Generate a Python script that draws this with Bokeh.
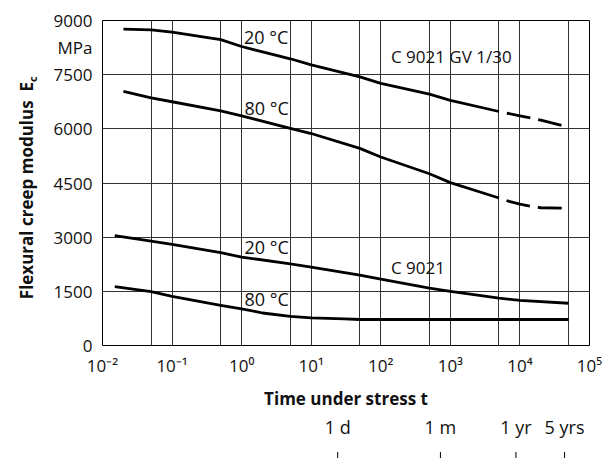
from math import pi, sqrt

from bokeh.core.properties import value
from bokeh.embed import file_html
from bokeh.layouts import column, row
from bokeh.models import FixedTicker, Range1d
from bokeh.plotting import figure
from bokeh.resources import INLINE

# Time under stress in hours, flexural creep modulus in MPa
gv20_t = [0.02, 0.05, 0.1, 0.5, 1, 2, 5, 10, 50, 100, 500, 1000, 5000]
gv20_e = [8760, 8740, 8680, 8470, 8280, 8130, 7940, 7770, 7440, 7260, 6960, 6790, 6480]
gv20_ext_t = [5000, 10000, 20000, 45000]
gv20_ext_e = [6480, 6360, 6240, 6070]

gv80_t = [0.02, 0.05, 0.1, 0.5, 1, 5, 10, 50, 100, 500, 1000, 5000]
gv80_e = [7040, 6860, 6750, 6500, 6360, 6010, 5870, 5460, 5220, 4755, 4510, 4085]
gv80_ext_t = [5000, 7000, 10000, 15000, 20000, 45000]
gv80_ext_e = [4085, 3990, 3915, 3845, 3815, 3800]

c20_t = [0.015, 0.05, 0.1, 0.5, 1, 5, 10, 50, 100, 500, 1000, 5000, 10000, 50000]
c20_e = [3040, 2890, 2800, 2570, 2450, 2260, 2170, 1950, 1840, 1590, 1500, 1310, 1250, 1170]

c80_t = [0.015, 0.05, 0.1, 0.5, 1, 2, 5, 10, 30, 50, 100, 50000]
c80_e = [1630, 1490, 1360, 1110, 1015, 900, 805, 765, 735, 720, 720, 720]

# Axis ticks
y_ticks = [0, 1500, 3000, 4500, 6000, 7500, 9000]
unit_tick = 8250
x_decades = [0.01, 0.1, 1, 10, 100, 1000, 10000, 100000]
x_decade_labels = ["10⁻²", "10⁻¹", "10⁰", "10¹", "10²", "10³", "10⁴", "10⁵"]
x_grid = [0.01, 0.05, 0.1, 0.5, 1, 5, 10, 50, 100, 500, 1000, 5000,
          10000, 50000, 100000]

# Reference durations in hours
period_hours = [24, 720, 8760, 43800]
period_labels = ["1 d", "1 m", "1 yr", "5 yrs"]

grade_gv = "C 9021 GV 1/30"
grade_plain = "C 9021"
temp_20 = "20 °C"
temp_80 = "80 °C"
y_title = "Flexural creep modulus\u00a0 E"
y_title_sub = "c"
x_title = "Time under stress t"
y_unit = "MPa"

FONT = "Open Sans"
INK = "#111111"

x_range = Range1d(0.01, 1e5)


def bare(fig):
    fig.outline_line_color = None
    fig.grid.grid_line_color = None
    fig.background_fill_color = "white"
    fig.border_fill_color = "white"


# main chart
p = figure(
    width=559, height=385,
    x_axis_type="log", x_range=x_range, y_range=Range1d(0, 9000),
    output_backend="svg", toolbar_location=None,
    min_border_left=52, min_border_right=20,
    min_border_top=20, min_border_bottom=40,
)
p.background_fill_color = "white"
p.border_fill_color = "white"
p.outline_line_color = "black"
p.outline_line_width = 1
p.outline_line_alpha = 1

p.xaxis.ticker = FixedTicker(ticks=x_decades)
p.xaxis.major_label_overrides = dict(zip(x_decades, x_decade_labels))
p.yaxis.ticker = FixedTicker(ticks=y_ticks + [unit_tick])
p.yaxis.major_label_overrides = {unit_tick: y_unit}
p.ygrid.ticker = FixedTicker(ticks=y_ticks)
p.xgrid.ticker = FixedTicker(ticks=x_grid)

for ax in (p.xaxis[0], p.yaxis[0]):
    ax.axis_line_color = None
    ax.major_tick_out = 0
    ax.major_tick_in = 0
    ax.minor_tick_out = 0
    ax.minor_tick_in = 0
    ax.minor_tick_line_color = None
    ax.major_label_text_font = FONT
    ax.major_label_text_font_size = "17px"
    ax.major_label_text_color = INK
p.xaxis.major_label_standoff = 8
p.yaxis.major_label_standoff = 10

p.grid.grid_line_color = "#333333"
p.grid.grid_line_width = 1
p.grid.grid_line_alpha = 1

# creep curves
curve = dict(line_color="black", line_width=2.8, line_join="round")
p.line(gv20_t, gv20_e, **curve)
p.line(gv20_ext_t, gv20_ext_e, line_dash="24 8", line_dash_offset=24, **curve)
p.line(gv80_t, gv80_e, **curve)
p.line(gv80_ext_t, gv80_ext_e, line_dash="24 8", line_dash_offset=24, **curve)
p.line(c20_t, c20_e, **curve)
p.line(c80_t, c80_e, **curve)

# curve annotations
text_style = dict(text_font=value(FONT), text_color=INK,
                  text_align="left", text_baseline="alphabetic")
p.text(x=[1.08, 1.1, 1.1, 1.1], y=[8550, 6590, 2740, 1300],
       text=[temp_20, temp_80, temp_20, temp_80],
       text_font_size="18px", **text_style)
p.text(x=[140, 140], y=[8000, 2160], text=[grade_gv, grade_plain],
       text_font_size="17px", **text_style)

# vertical title strip, pixel coordinates
left = figure(
    width=50, height=385, x_range=Range1d(0, 50), y_range=Range1d(0, 385),
    output_backend="svg", toolbar_location=None,
    x_axis_location=None, y_axis_location=None,
    min_border=0,
)
bare(left)
left.text(x=[26], y=[183.5], text=[y_title], angle=pi / 2,
          text_font=value(FONT), text_font_style="bold", text_font_size="17px",
          text_color=INK, text_align="center", text_baseline="alphabetic")
left.text(x=[32], y=[312], text=[y_title_sub], angle=pi / 2,
          text_font=value(FONT), text_font_style="bold", text_font_size="11px",
          text_color=INK, text_align="left", text_baseline="alphabetic")

# bottom strip on the same time scale: axis title and calendar durations
strip = figure(
    width=609, height=73,
    x_axis_type="log", x_range=x_range, y_range=Range1d(0, 73),
    output_backend="svg", toolbar_location=None,
    x_axis_location=None, y_axis_location=None,
    min_border_left=102, min_border_right=20,
    min_border_top=0, min_border_bottom=0,
)
bare(strip)
strip.text(x=[sqrt(x_range.start * x_range.end)], y=[60.3], text=[x_title],
           text_font=value(FONT), text_font_style="bold", text_font_size="17px",
           text_color=INK, text_align="center", text_baseline="alphabetic")
strip.text(x=period_hours, y=[32] * len(period_hours), text=period_labels,
           text_font=value(FONT), text_font_size="18px", text_color=INK,
           text_align="center", text_baseline="alphabetic")
strip.segment(x0=period_hours, y0=0, x1=period_hours, y1=6.5,
              line_color="black", line_width=1)

layout = column(row(left, p, spacing=0), strip, spacing=0)

with open("out.html", "w") as f:
    f.write(file_html(layout, INLINE))
